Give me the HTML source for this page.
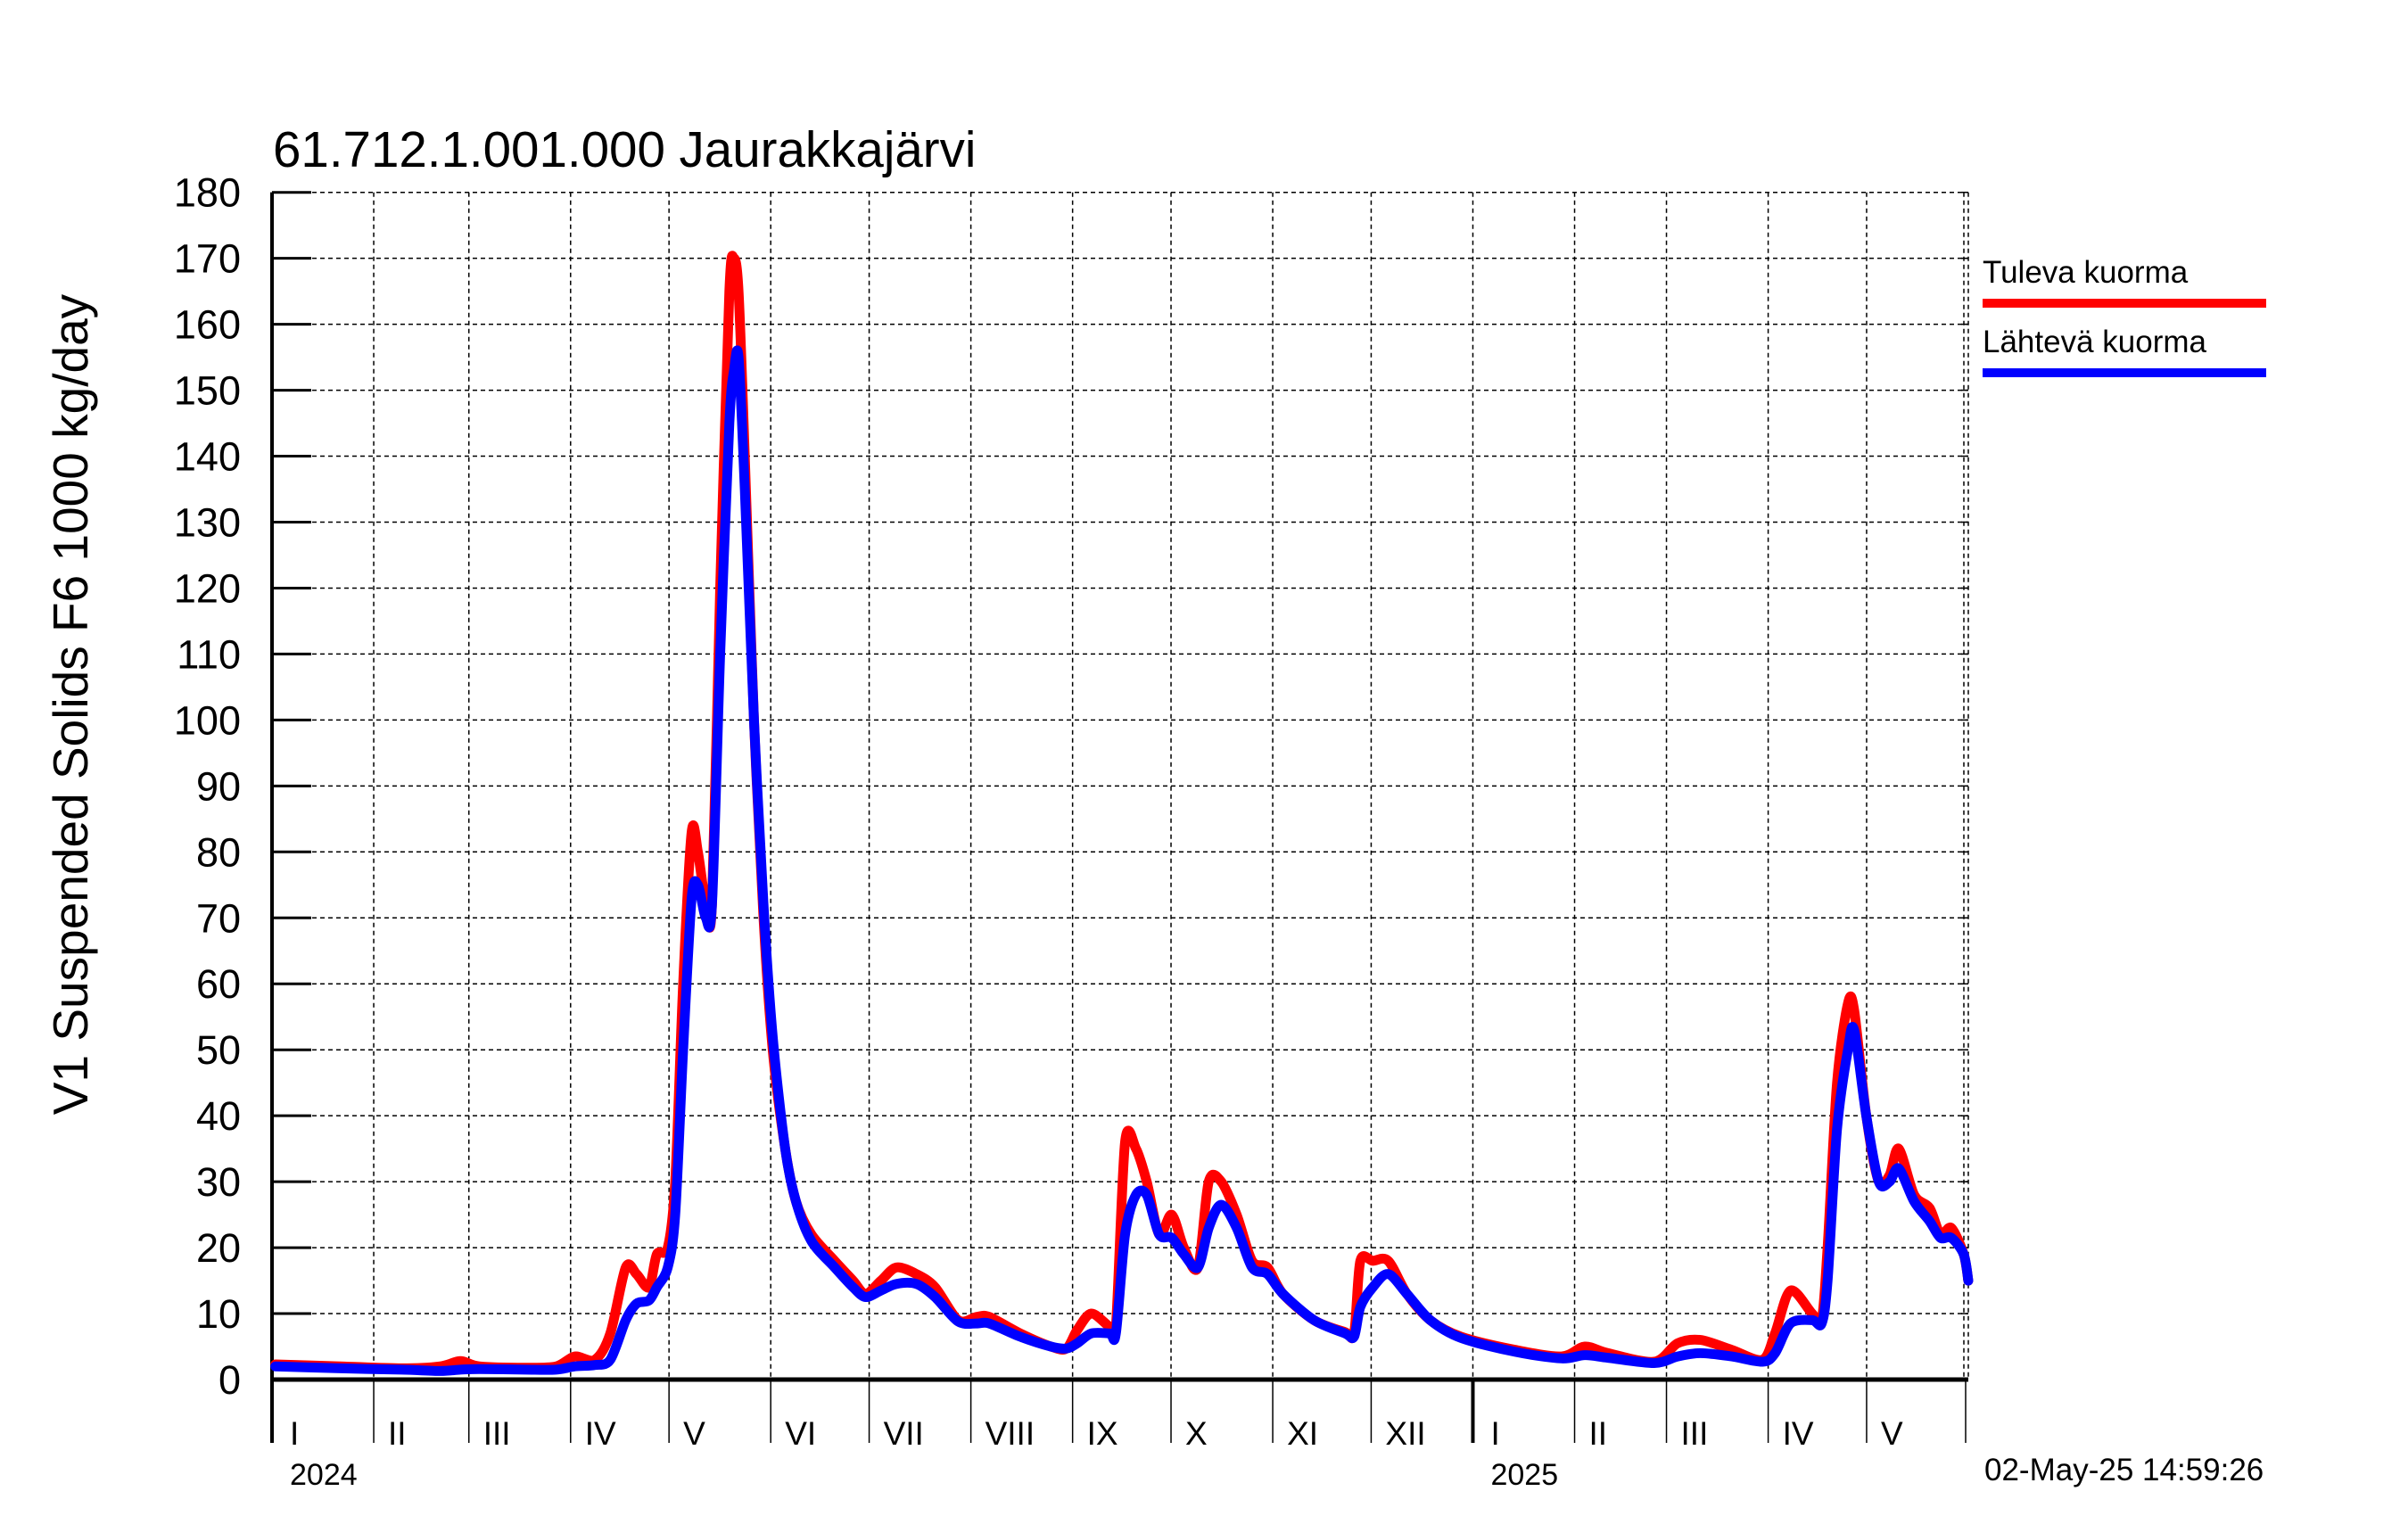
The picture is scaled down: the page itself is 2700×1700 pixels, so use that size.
<!DOCTYPE html>
<html><head><meta charset="utf-8"><style>
html,body{margin:0;padding:0;background:#fff;}
svg{display:block;font-family:"Liberation Sans",Arial,sans-serif;}
</style></head><body>
<svg id="chart" width="2700" height="1700" viewBox="0 0 2700 1700" xmlns="http://www.w3.org/2000/svg">
<text x="306" y="187" font-size="56.5">61.712.1.001.000 Jaurakkajärvi</text>
<text transform="translate(98,790) rotate(-90)" text-anchor="middle" font-size="55">V1 Suspended Solids F6 1000 kg/day</text>
<g id="grid"></g>
<g id="axes"></g>
<g id="series"></g>
<g>
<text x="2223" y="317" font-size="35">Tuleva kuorma</text>
<rect x="2223" y="335" width="318" height="10" fill="#ff0000"/>
<text x="2223" y="395" font-size="35">Lähtevä kuorma</text>
<rect x="2223" y="413" width="318" height="10" fill="#0000ff"/>
</g>
<text x="2225" y="1660" font-size="35">02-May-25 14:59:26</text>
</svg>
<script>
const days = [1,21,39.5,51.3,57.4,63.2,77.2,86.6,92.3,98.4,103.1,107.8,111.1,114.9,117.3,120.6,122.9,125.3,127.9,129.8,132.2,134.1,136.6,139.4,140.8,142.2,144.1,146.9,149.8,152.6,156.4,159.7,164.4,171.5,177.1,180.9,185.6,190.3,196.4,202.1,209.1,214.8,218.6,228,237.4,242.1,245.4,249.7,255.3,257.2,260,263.3,266.6,270.4,274.2,277.9,282.2,285.5,289.3,294,298.7,303.4,308.1,317.6,327,329.8,331.7,335.5,340.2,345.9,353,362.4,378.9,393,400.1,407.2,421.3,428.4,435.4,444.9,454.3,458.1,462.8,469.4,472.3,474.1,477,480.3,482.2,485.9,489.7,493,495.8,500.5,505.2,508.5,511.8,515.6,517];
const inflow = [2.3,2,1.7,2,2.8,2,1.8,2,3.5,3,7,17,16,14,19,20,30,60,83,80,72,72,120,165,170,165,140,100,70,50,35,27,22,18,15,13,15,17,16,14,9,9.5,9.5,7,5,4.7,7.5,10,8,8,36,35,30,22,25,20,17,30,30,25,18,17,13,9,7.2,7,18,18,18,13,9,6.5,4.5,3.5,5,4,2.7,5.5,6,4.5,3,7,13.5,10,9,20,45,57,56,40,30,31,35,28,26,22,23,19,15];
const outflow = [2,1.7,1.5,1.3,1.5,1.6,1.5,1.5,2,2.2,3,9,11.5,12,14,17,25,50,73,75,70,72,110,145,153,155,135,100,72,52,35,27,21,17,14,12.5,13.5,14.5,14.5,12.5,8.8,8.5,8.5,6.5,5,4.7,5.5,7,7,7,22,28,28,22,21.5,19,17,23,26.5,23,17,16,13,9,7,6.5,11,14,16,13,9,6.3,4.2,3.2,3.7,3.3,2.5,3.5,4,3.5,2.7,4,8.5,9,8.5,15,38,50,53,40,30,30,32,27,24,21.5,21.5,19,15];
const yTicks = [0,10,20,30,40,50,60,70,80,90,100,110,120,130,140,150,160,170,180];
const monthLabels = ["I","II","III","IV","V","VI","VII","VIII","IX","X","XI","XII","I","II","III","IV","V"];
const monthDays = [31,29,31,30,31,30,31,31,30,31,30,31,31,28,31,30,31];
const yearLabels = ["2024","2025"];

const NS="http://www.w3.org/2000/svg";
const X0=305, X1=2207, Y0=1547, Y1=215.7, DMAX=517, VMAX=180;
function xs(d){return X0+(X1-X0)*d/DMAX;}
function ys(v){return Y0-(Y0-Y1)*v/VMAX;}
function mk(tag,attrs,parent){const e=document.createElementNS(NS,tag);for(const k in attrs)e.setAttribute(k,attrs[k]);parent.appendChild(e);return e;}
const grid=document.getElementById('grid'), axes=document.getElementById('axes'), series=document.getElementById('series');

yTicks.forEach(function(v){
  const y=ys(v);
  if(v>0){
    const g=mk('line',{x1:X0,x2:X1,y1:y,y2:y,stroke:'#000','stroke-width':1.5,'stroke-dasharray':'5,4'},grid);
    
    
  }
  const t=mk('line',{x1:X0,x2:X0+44,y1:y,y2:y,stroke:'#000','stroke-width':3},axes);
  
  
  const rt=mk('line',{x1:X1-8,x2:X1,y1:y,y2:y,stroke:'#000','stroke-width':1.5},axes);
  
  
  const lab=mk('text',{x:270,y:y+16,'text-anchor':'end','font-size':45},axes);
  lab.textContent=String(v);
  
  
});

let cum=0;
monthLabels.forEach(function(m,i){
  const x=xs(cum);
  const isYear=(i===0||i===12);
  if(i>0){
    const g=mk('line',{x1:x,x2:x,y1:Y1,y2:Y0,stroke:'#000','stroke-width':1.5,'stroke-dasharray':'5,4'},grid);
    
    
  }
  const t=mk('line',{x1:x,x2:x,y1:i===0?Y1:Y0,y2:1618,stroke:'#000','stroke-width':isYear?4:1.5},axes);
  
  
  const lab=mk('text',{x:x+(m==="I"?20:16),y:1620,'font-size':37},axes);
  lab.textContent=m;
  
  
  if(isYear){
    const yl=mk('text',{x:x+20,y:1665,'font-size':34},axes);
    yl.textContent=yearLabels[i===0?0:1];
    
    
  }
  cum+=monthDays[i];
});
const endT=mk('line',{x1:X1-3,x2:X1-3,y1:Y0,y2:1618,stroke:'#000','stroke-width':1.5},axes);


const rb=mk('line',{x1:X1,x2:X1,y1:Y1,y2:Y0,stroke:'#000','stroke-width':1.5,'stroke-dasharray':'5,4'},grid);


const rb2=mk('line',{x1:X1-5,x2:X1-5,y1:Y1,y2:Y0,stroke:'#000','stroke-width':1.5,'stroke-dasharray':'5,4'},grid);


const tb=mk('line',{x1:X0,x2:X1,y1:Y1,y2:Y1,stroke:'#000','stroke-width':1.5,'stroke-dasharray':'5,4'},grid);


const xa=mk('line',{x1:X0,x2:X1,y1:Y0,y2:Y0,stroke:'#000','stroke-width':5},axes);


const ya=mk('line',{x1:X0,x2:X0,y1:Y1,y2:1618,stroke:'#000','stroke-width':4},axes);



function pathFor(vals){
  const p=vals.map(function(v,i){return [xs(days[i]),ys(v)];});
  let d='M'+p[0][0].toFixed(1)+','+p[0][1].toFixed(1);
  for(let i=0;i<p.length-1;i++){
    const p0=p[Math.max(i-1,0)],p1=p[i],p2=p[i+1],p3=p[Math.min(i+2,p.length-1)];
    const k=0.15;
    const c1x=p1[0]+(p2[0]-p0[0])*k, c1y=p1[1]+(p2[1]-p0[1])*k;
    const c2x=p2[0]-(p3[0]-p1[0])*k, c2y=p2[1]-(p3[1]-p1[1])*k;
    d+=' C'+c1x.toFixed(1)+','+c1y.toFixed(1)+' '+c2x.toFixed(1)+','+c2y.toFixed(1)+' '+p2[0].toFixed(1)+','+p2[1].toFixed(1);
  }
  return d;
}
const pr=mk('path',{d:pathFor(inflow),fill:'none',stroke:'#ff0000','stroke-width':11,'stroke-linejoin':'round','stroke-linecap':'round'},series);


const pb=mk('path',{d:pathFor(outflow),fill:'none',stroke:'#0000ff','stroke-width':11,'stroke-linejoin':'round','stroke-linecap':'round'},series);


</script>
</body></html>
